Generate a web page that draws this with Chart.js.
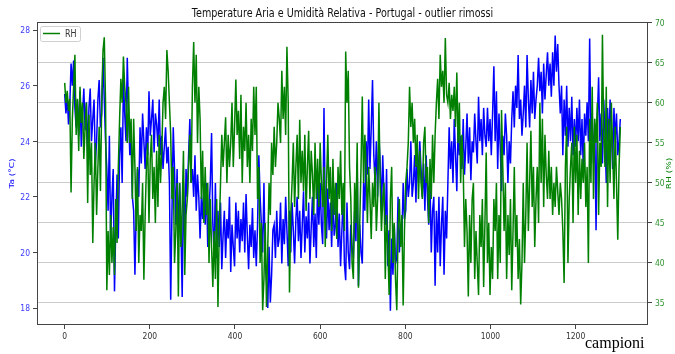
<!DOCTYPE html>
<html>
<head>
	<title>Temperature Aria e Umidità Relativa - Portugal</title>
	<script src="https://cdn.jsdelivr.net/npm/chart.js@4.4.0/dist/chart.umd.min.js"></script>
	<style>
		body {margin: 0; background: #fff;}
		canvas {display: block;}
	</style>
</head>
<body>
<canvas id="myChart" width="675" height="354"></canvas>

<script>

// one value every STEP samples
var STEP = 3;

var ta = [
	25.7, 25.0, 25.6, 24.6, 25.3, 26.8, 26.0, 26.9, 25.2, 24.5,
	25.5, 24.2, 25.8, 23.8, 25.0, 25.9, 24.4, 25.4, 23.6, 25.2,
	25.9, 24.0, 24.8, 25.5, 23.2, 24.0, 25.5, 26.2, 24.5, 25.0,
	27.0, 25.5, 24.0, 23.0, 21.5, 24.2, 20.5, 22.0, 23.0, 18.6,
	21.0, 22.8, 20.5, 23.5, 24.5, 22.5, 26.2, 25.0, 24.0, 27.0,
	25.0, 23.5, 24.0, 22.0, 21.5, 19.2, 21.5, 23.0, 22.0, 24.5,
	23.2, 25.0, 24.0, 23.0, 24.5, 23.5, 25.8, 24.2, 24.8, 25.5,
	23.6, 25.0, 24.6, 23.8, 25.5, 23.5, 24.2, 23.0, 23.8, 24.5,
	23.2, 23.8, 22.5, 18.3, 21.5, 24.5, 23.0, 21.0, 23.0, 20.5,
	22.5, 21.0, 18.4, 22.5, 20.2, 23.0, 22.0, 23.5, 24.8, 22.5,
	23.0, 22.0, 23.5, 21.5, 22.8, 22.0, 20.5, 22.0, 21.2, 22.5,
	21.0, 22.5, 20.2, 21.5, 22.5, 24.3, 21.0, 20.0, 22.5, 19.8,
	21.5, 20.2, 21.8, 19.4, 20.6, 21.5, 19.8, 21.2, 20.5, 22.0,
	19.3, 21.0, 20.2, 19.5, 21.8, 20.5, 21.5, 20.0, 21.2, 20.4,
	21.8, 20.0, 22.1, 20.6, 19.4, 21.0, 20.2, 21.6, 19.8, 20.8,
	19.5, 21.0, 23.5, 22.0, 21.0, 20.0, 22.5, 19.6, 19.0, 18.0,
	20.2, 18.2, 19.2, 20.8, 21.0, 19.8, 21.5, 20.2, 20.5, 21.8,
	19.6, 21.2, 20.3, 22.0, 20.8, 19.5, 21.5, 20.0, 21.8, 20.8,
	19.6, 21.2, 22.0, 20.4, 21.5, 19.8, 21.0, 22.2, 20.0, 21.3,
	20.5, 21.8, 19.6, 20.9, 22.0, 20.2, 21.4, 19.8, 22.5, 21.0,
	22.5, 21.0, 20.3, 25.2, 21.5, 20.5, 22.3, 20.8, 21.8, 20.2,
	22.0, 20.6, 21.0, 22.5, 20.2, 21.4, 19.5, 20.8, 22.0, 19.6,
	19.0, 21.8, 20.0, 19.4, 21.0, 20.2, 19.8, 21.5, 20.4, 23.2,
	18.8, 21.0, 20.0, 19.6, 22.5, 21.5, 24.0, 22.8, 25.5, 23.0,
	24.5, 26.2, 23.5, 22.5, 24.0, 22.0, 24.2, 23.2, 21.5, 23.5,
	22.0, 21.0, 23.0, 19.5, 20.8, 17.9, 20.5, 19.2, 21.0, 19.6,
	19.8, 22.0, 20.0, 21.0, 20.5, 22.5, 21.2, 21.5, 23.0, 22.0,
	22.5, 24.0, 22.0, 22.5, 23.5, 21.8, 23.8, 22.5, 24.0, 23.0,
	22.0, 23.2, 21.5, 23.5, 22.0, 21.0, 22.5, 20.0, 21.5, 22.0,
	18.8, 21.5, 20.0, 22.0, 19.5, 21.0, 22.0, 19.2, 21.5, 20.5,
	22.5, 24.5, 23.0, 24.0, 22.5, 24.8, 23.5, 22.2, 24.5, 23.5,
	24.2, 23.0, 24.8, 22.8, 23.8, 25.0, 23.2, 24.5, 22.6, 24.0,
	23.6, 25.0, 24.0, 23.2, 25.6, 24.0, 24.8, 23.5, 25.2, 24.2,
	23.8, 25.2, 24.0, 24.8, 23.5, 25.0, 26.7, 24.0, 25.8, 23.0,
	25.0, 23.8, 22.2, 24.2, 23.5, 25.0, 24.2, 22.5, 24.0, 23.2,
	24.8, 25.8, 24.5, 26.0, 25.2, 27.1, 24.8, 25.5, 24.2, 25.0,
	26.0, 24.5, 27.1, 25.5, 24.5, 26.2, 25.0, 26.5, 24.8, 25.5,
	26.0, 27.0, 25.8, 26.5, 25.0, 26.8, 25.5, 26.4, 27.2, 26.0,
	26.8, 25.6, 27.2, 26.0, 27.8, 26.5, 27.5, 26.0, 25.0, 26.0,
	23.5, 25.5, 24.2, 26.0, 23.8, 25.2, 24.0, 25.6, 23.5, 24.8,
	23.8, 25.2, 24.0, 25.5, 23.5, 24.8, 23.0, 25.0, 24.2, 25.4,
	24.0, 27.7, 24.0, 25.0, 23.2, 24.5, 20.8, 24.8, 26.3, 24.0,
	25.0, 23.2, 25.5, 24.2, 22.5, 25.2, 23.8, 25.5, 24.4, 23.0,
	25.2, 24.0, 25.0, 23.5, 24.0, 24.8
];

var rh = [
	62.5, 60.0, 61.5, 59.0, 60.5, 48.8, 58.0, 62.0, 66.0, 56.0,
	60.5, 54.0, 62.0, 57.5, 60.0, 53.0, 57.0, 60.0, 47.5, 58.5,
	51.0, 55.0, 42.5, 50.0, 55.0, 46.0, 52.0, 57.0, 49.0, 60.0,
	66.5, 68.2, 60.0, 36.6, 44.0, 38.5, 46.0, 40.0, 44.5, 38.5,
	48.0, 42.5, 52.0, 58.0, 63.0, 60.0, 65.8, 62.0, 60.0, 55.0,
	62.0, 55.0, 58.0, 48.0, 58.0, 52.0, 44.0, 52.0, 40.0, 46.0,
	44.0, 50.0, 37.9, 46.0, 52.0, 55.0, 45.0, 53.0, 56.0, 48.0,
	52.0, 45.0, 54.0, 47.0, 56.0, 50.0, 54.0, 60.0, 62.0, 58.0,
	66.6, 64.0, 60.0, 56.0, 48.0, 52.0, 40.0, 44.0, 50.0, 35.8,
	50.0, 42.0, 47.0, 54.0, 38.5, 46.0, 48.0, 52.0, 56.0, 50.0,
	62.0, 67.6, 60.0, 66.0, 55.0, 62.0, 58.0, 48.0, 54.0, 45.0,
	52.0, 46.0, 50.0, 40.0, 48.0, 42.0, 37.0, 44.0, 38.0, 48.0,
	34.5, 44.0, 50.0, 56.0, 52.0, 55.0, 58.2, 50.0, 56.0, 52.0,
	55.0, 60.0, 52.0, 57.0, 62.9, 56.0, 59.0, 53.0, 61.0, 50.0,
	57.0, 54.0, 60.0, 52.0, 56.0, 50.0, 58.0, 54.0, 62.0, 56.0,
	62.0, 48.0, 52.0, 40.0, 45.0, 34.1, 38.0, 45.0, 34.5, 42.0,
	50.0, 46.0, 55.0, 51.0, 57.0, 52.0, 55.0, 60.0, 58.0, 55.0,
	64.0, 58.0, 62.0, 56.0, 67.0, 60.0, 36.3, 46.0, 50.0, 55.0,
	47.0, 52.0, 56.0, 48.0, 57.9, 50.0, 54.0, 49.0, 56.0, 46.5,
	52.0, 56.5, 48.0, 54.0, 51.0, 46.0, 55.0, 48.0, 53.0, 47.0,
	55.0, 50.0, 47.0, 52.0, 42.0, 50.0, 56.0, 48.0, 52.0, 44.0,
	53.0, 46.0, 50.0, 43.0, 52.0, 48.0, 54.0, 46.0, 50.0, 44.0,
	66.4, 60.0, 64.0, 52.0, 48.0, 40.0, 38.0, 50.0, 45.0, 55.0,
	36.9, 45.0, 52.0, 60.8, 50.0, 56.0, 52.0, 45.0, 52.0, 48.0,
	43.0, 50.0, 47.0, 52.0, 44.0, 48.0, 60.0, 50.0, 44.0, 48.0,
	50.0, 38.0, 46.0, 42.0, 36.0, 48.0, 52.0, 40.0, 45.0, 38.0,
	34.1, 44.0, 48.0, 42.0, 46.0, 34.7, 44.0, 50.0, 52.0, 55.0,
	62.0, 57.0, 60.0, 55.0, 58.0, 52.0, 56.0, 48.0, 54.0, 50.0,
	48.0, 55.0, 57.0, 50.0, 52.0, 45.0, 53.0, 48.0, 56.0, 50.0,
	56.0, 60.0, 63.0, 58.0, 66.0, 62.0, 64.0, 60.0, 68.1, 61.0,
	60.0, 62.5, 58.0, 61.0, 59.0, 62.0, 57.0, 63.8, 55.0, 60.0,
	50.0, 56.0, 52.0, 42.0, 48.0, 44.0, 35.8, 46.0, 40.0, 48.0,
	50.0, 38.0, 44.0, 40.0, 36.0, 46.0, 42.0, 48.0, 37.0, 45.0,
	53.8, 40.0, 45.0, 36.0, 42.0, 38.0, 48.0, 44.0, 50.0, 38.0,
	46.0, 40.0, 59.1, 52.0, 44.0, 50.0, 38.0, 46.0, 41.0, 48.0,
	36.6, 44.0, 52.0, 42.0, 46.0, 38.0, 43.0, 34.8, 40.0, 50.0,
	40.0, 46.0, 55.0, 44.0, 50.0, 56.5, 47.0, 52.0, 42.0, 48.0,
	52.0, 45.0, 60.0, 50.0, 58.0, 47.0, 56.0, 51.0, 48.0, 54.0,
	48.0, 52.0, 46.0, 50.0, 47.0, 52.0, 49.0, 46.0, 50.0, 48.0,
	44.0, 37.5, 52.0, 57.0, 40.0, 48.0, 52.0, 55.0, 45.0, 57.0,
	50.0, 56.0, 46.0, 54.0, 48.0, 53.0, 50.0, 55.0, 47.0, 52.0,
	40.0, 58.0, 50.0, 62.0, 48.0, 58.0, 55.0, 60.0, 46.0, 55.0,
	52.0, 68.5, 56.0, 52.0, 62.0, 47.0, 58.0, 50.0, 60.0, 54.0,
	48.0, 57.0, 50.0, 42.9, 52.0, 57.0
];

var xTicks = [0, 200, 400, 600, 800, 1000, 1200];
var taTicks = [18, 20, 22, 24, 26, 28];
var rhTicks = [35, 40, 45, 50, 55, 60, 65, 70];

var titleText = "Temperature Aria e Umidità Relativa - Portugal - outlier rimossi";

function toPoints(values) {
	var pts = [];
	for (var i = 0; i < values.length; i++) {
		pts.push({x: i * STEP, y: values[i]});
	}
	return pts;
}

function setTicks(list) {
	return function(scale) {
		scale.ticks = list.map(function(v) { return {value: v}; });
	};
}

var FONT = "'DejaVu Sans', sans-serif";
var SX = 0.8; // the picture's text is a bit narrow

function text(ctx, str, x, y, align, rot) {
	ctx.save();
	ctx.translate(x, y);
	if (rot) {
		ctx.rotate(rot);
		ctx.scale(1, SX);
	} else {
		ctx.scale(SX, 1);
	}
	ctx.textAlign = align;
	ctx.fillText(str, 0, 0);
	ctx.restore();
}

// title, frame, legend, tick labels, axis labels
var extras = {
	id: 'extras',
	afterDatasetsDraw: function(chart) {
		var ctx = chart.ctx;
		var a = chart.chartArea;
		var s = chart.scales;
		ctx.save();

		ctx.strokeStyle = '#444';
		ctx.lineWidth = 1;
		ctx.strokeRect(a.left + 0.5, a.top + 0.5, a.right - a.left - 1, a.bottom - a.top - 1);

		// legend
		ctx.fillStyle = 'rgba(255,255,255,0.85)';
		ctx.strokeStyle = '#d0d0d0';
		ctx.beginPath();
		ctx.roundRect(a.left + 3.5, a.top + 4.5, 40, 15, 2);
		ctx.fill();
		ctx.stroke();
		ctx.strokeStyle = 'green';
		ctx.lineWidth = 1.5;
		ctx.beginPath();
		ctx.moveTo(a.left + 6, a.top + 11.5);
		ctx.lineTo(a.left + 23, a.top + 11.5);
		ctx.stroke();
		ctx.fillStyle = '#333';
		ctx.font = "10px " + FONT;
		ctx.textBaseline = 'middle';
		text(ctx, "RH", a.left + 28, a.top + 12, 'left');

		// title
		ctx.fillStyle = '#111';
		ctx.font = "12px " + FONT;
		text(ctx, titleText, (a.left + a.right) / 2, 14, 'center');

		// tick labels
		ctx.font = "9.5px " + FONT;
		ctx.textBaseline = 'alphabetic';
		ctx.fillStyle = '#333';
		s.x.ticks.forEach(function(t) {
			text(ctx, String(t.value), s.x.getPixelForValue(t.value), 339, 'center');
		});
		ctx.fillStyle = '#3a3aff';
		s.yTa.ticks.forEach(function(t) {
			text(ctx, String(t.value), 30, s.yTa.getPixelForValue(t.value) + 3.4, 'right');
		});
		ctx.fillStyle = '#2f922f';
		s.yRh.ticks.forEach(function(t) {
			text(ctx, String(t.value), 655, s.yRh.getPixelForValue(t.value) + 3.4, 'left');
		});

		// y axis titles
		var midY = (a.top + a.bottom) / 2;
		ctx.font = "9px " + FONT;
		ctx.textBaseline = 'middle';
		ctx.fillStyle = 'blue';
		text(ctx, "Ta (°C)", 12.5, midY, 'center', -Math.PI / 2);
		ctx.fillStyle = 'green';
		text(ctx, "RH (%)", 669.5, midY, 'center', -Math.PI / 2);

		// x axis label
		ctx.fillStyle = '#000';
		ctx.font = "16px 'Liberation Serif', serif";
		ctx.textAlign = 'left';
		ctx.textBaseline = 'alphabetic';
		ctx.fillText("campioni", 585, 348);

		ctx.restore();
	}
};

var ctx = document.getElementById('myChart').getContext('2d');
var chart = new Chart(ctx, {
	type: 'line',
	data: {
		datasets: [{
			label: 'Ta',
			data: toPoints(ta),
			borderColor: 'blue',
			borderWidth: 1.5,
			pointRadius: 0,
			yAxisID: 'yTa',
			order: 1
		}, {
			label: 'RH',
			data: toPoints(rh),
			borderColor: 'green',
			borderWidth: 1.5,
			pointRadius: 0,
			yAxisID: 'yRh',
			order: 0
		}]
	},
	options: {
		responsive: false,
		animation: false,
		layout: {padding: {top: 22, left: 0, right: 0, bottom: 0}},
		plugins: {
			legend: {display: false},
			title: {display: false},
			tooltip: {enabled: false}
		},
		scales: {
			x: {
				type: 'linear',
				min: -65,
				max: 1370,
				afterBuildTicks: setTicks(xTicks),
				afterFit: function(scale) { scale.height = 29; },
				border: {display: false},
				grid: {drawOnChartArea: false, tickLength: 4, tickColor: '#444'},
				ticks: {display: false}
			},
			yTa: {
				position: 'left',
				min: 17.39,
				max: 28.29,
				afterBuildTicks: setTicks(taTicks),
				afterFit: function(scale) { scale.width = 37; },
				border: {display: false},
				grid: {drawOnChartArea: false, tickLength: 4, tickColor: '#444'},
				ticks: {display: false}
			},
			yRh: {
				position: 'right',
				min: 32.25,
				max: 70.1,
				afterBuildTicks: setTicks(rhTicks),
				afterFit: function(scale) { scale.width = 27; },
				border: {display: false},
				grid: {color: '#cccccc', lineWidth: 1, tickLength: 4, tickColor: '#444'},
				ticks: {display: false}
			}
		}
	},
	plugins: [extras]
});

</script>

</body>
</html>
